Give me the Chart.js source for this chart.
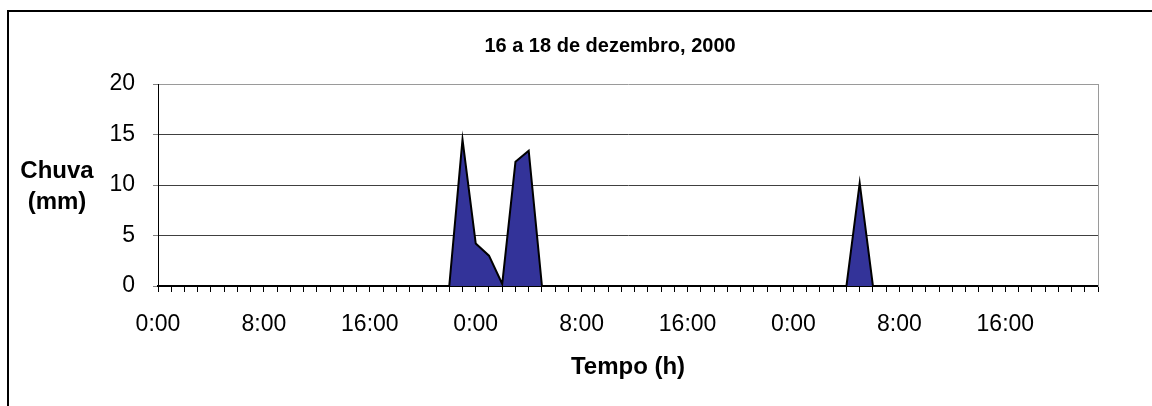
<!DOCTYPE html>
<html>
<head>
<meta charset="utf-8">
<script src="https://cdn.jsdelivr.net/npm/chart.js@4.4.0/dist/chart.umd.min.js"></script>
<style>
  html, body { margin: 0; padding: 0; background: #fff; }
  #wrap { position: relative; width: 1152px; height: 406px; overflow: hidden; }
  #chuva { position: absolute; left: 0; top: 0; }
  /* moldura do gráfico (cortada à direita e em baixo) */
  #frame {
    position: absolute; left: 7px; top: 10px; width: 1300px; height: 600px;
    border-left: 2px solid #000; border-top: 2px solid #000; pointer-events: none;
  }
  #ytitle {
    position: absolute; left: 12px; top: 154px; width: 90px; text-align: center;
    font: bold 24px 'Liberation Sans', Arial, sans-serif; line-height: 31px; color: #000;
  }
</style>
</head>
<body>
<div id="wrap">
  <canvas id="chuva" width="1152" height="406"></canvas>
  <div id="ytitle">Chuva<br>(mm)</div>
  <div id="frame"></div>
</div>
<script>
// Dados: chuva horária (mm), 16 a 18 de dezembro de 2000
const dias = ["16/12", "17/12", "18/12"];
const horas = [0, 1, 2, 3, 4, 5, 6, 7, 8, 9, 10, 11, 12, 13, 14, 15, 16, 17, 18, 19, 20, 21, 22, 23];
const chuva16 = [0, 0, 0, 0, 0, 0, 0, 0, 0, 0, 0, 0, 0, 0, 0, 0, 0, 0, 0, 0, 0, 0, 0, 14.5];
const chuva17 = [4.2, 3.0, 0.2, 12.3, 13.4, 0, 0, 0, 0, 0, 0, 0, 0, 0, 0, 0, 0, 0, 0, 0, 0, 0, 0, 0];
const chuva18 = [0, 0, 0, 0, 0, 10.2, 0, 0, 0, 0, 0, 0, 0, 0, 0, 0, 0, 0, 0, 0, 0, 0, 0, 0];
const yTicks = [0, 5, 10, 15, 20];
const labelEvery = 8;
const titulo = "16 a 18 de dezembro, 2000";

const labels = [];
dias.forEach(() => horas.forEach((h) => labels.push(h + ":00")));
const chuva = [...chuva16, ...chuva17, ...chuva18];

const FONT = "'Liberation Sans', Arial, sans-serif";
Chart.defaults.font.family = FONT;
Chart.defaults.color = "#000";

new Chart(document.getElementById("chuva"), {
  type: "line",
  data: {
    labels: labels,
    datasets: [
      {
        label: "Chuva",
        data: chuva,
        fill: "origin",
        backgroundColor: "#333399",
        borderColor: "#000",
        borderWidth: 2,
        borderJoinStyle: "miter",
        pointRadius: 0,
        tension: 0,
      },
    ],
  },
  options: {
    responsive: false,
    animation: false,
    layout: { padding: { left: 68, right: 0, top: 0, bottom: 0 } },
    plugins: {
      legend: { display: false },
      tooltip: { enabled: false },
      title: {
        display: true,
        text: titulo,
        color: "#000",
        font: { size: 20, weight: "bold" },
        padding: { top: 34, bottom: 26 },
      },
    },
    scales: {
      x: {
        ticks: {
          autoSkip: false,
          maxRotation: 0,
          padding: 19,
          color: "#000",
          font: { size: 23 },
          callback: (v, i) => (i % labelEvery === 0 ? labels[i] : ""),
        },
        grid: { drawOnChartArea: false, drawTicks: true, tickLength: 6, color: "#000" },
        border: { color: "#000", width: 2 },
        title: {
          display: true,
          text: "Tempo (h)",
          color: "#000",
          font: { size: 24, weight: "bold" },
          padding: { top: 0, bottom: 24.6 },
        },
        afterFit: (s) => { s.height = 120; },
      },
      y: {
        min: yTicks[0],
        max: yTicks[yTicks.length - 1],
        afterBuildTicks: (s) => { s.ticks = yTicks.map((v) => ({ value: v })); },
        ticks: { padding: 18, color: "#000", font: { size: 23 } },
        grid: {
          color: (ctx) => (ctx.tick && ctx.tick.value === 20 ? "#9a9a9a" : "#404040"),
          tickColor: "#808080",
          tickLength: 5,
        },
        border: { color: "#000", width: 1 },
        afterFit: (s) => { s.width = 90; },
      },
      y2: {
        position: "right",
        display: true,
        ticks: { display: false },
        grid: { drawOnChartArea: false, drawTicks: false },
        border: { display: true, color: "#9a9a9a", width: 1 },
        afterFit: (s) => { s.width = 54; },
      },
    },
  },
});
</script>
</body>
</html>
